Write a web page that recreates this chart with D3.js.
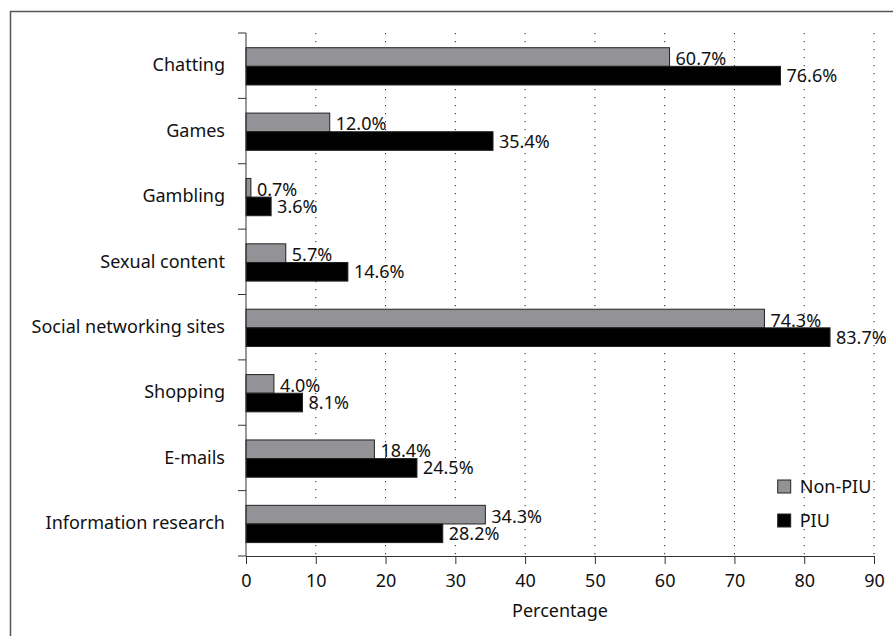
<!DOCTYPE html>
<html>
<head>
<meta charset="utf-8">
<script src="https://cdn.jsdelivr.net/npm/d3@7"></script>
<style>
  body { margin: 0; background: #fff; }
  text { font-family: "Noto Sans", "Open Sans", sans-serif; fill: #111; }
</style>
</head>
<body>
<svg id="drawing_region"></svg>
<script>
// values
const categories = ["Chatting", "Games", "Gambling", "Sexual content",
    "Social networking sites", "Shopping", "E-mails", "Information research"];
const nonPiu = [60.7, 12.0, 0.7, 5.7, 74.3, 4.0, 18.4, 34.3];
const piu    = [76.6, 35.4, 3.6, 14.6, 83.7, 8.1, 24.5, 28.2];
const seriesNames = ["Non-PIU", "PIU"];
const seriesColors = ["#939397", "#000000"];
const xTicks = [0, 10, 20, 30, 40, 50, 60, 70, 80, 90];

const config = {
    width: 893,
    height: 636,
    margin: {top: 33, right: 19, bottom: 80, left: 246}
};
const fontSize = '18px';

const svg = d3.select('#drawing_region')
    .attr('width', config.width)
    .attr('height', config.height);

// outer frame (open at right/bottom, runs off the picture)
svg.append('rect')
    .attr('x', 10.5).attr('y', 11.5)
    .attr('width', 1000).attr('height', 1000)
    .attr('fill', 'none')
    .attr('stroke', '#555')
    .attr('stroke-width', 1.5);

const inner_width = config.width - config.margin.left - config.margin.right;
const inner_height = config.height - config.margin.top - config.margin.bottom;

const chart = svg.append('g')
    .attr('transform', `translate(${config.margin.left}, ${config.margin.top})`);

const xscale = d3.scaleLinear()
    .domain([0, 90])
    .range([0, inner_width]);

const yscale = d3.scaleBand()
    .domain(categories)
    .range([0, inner_height])
    .padding(0);

const subscale = d3.scaleBand()
    .domain(seriesNames)
    .range([yscale.bandwidth() * 0.225, yscale.bandwidth() * 0.795]);

// dotted grid
chart.append('g')
    .selectAll('line')
    .data(xTicks.slice(1))
    .join('line')
    .attr('x1', d => xscale(d)).attr('x2', d => xscale(d))
    .attr('y1', 0).attr('y2', inner_height)
    .attr('stroke', '#222')
    .attr('stroke-width', 1)
    .attr('stroke-dasharray', '1.2,6.8');

const data = categories.map((c, i) => ({cat: c, values: [nonPiu[i], piu[i]]}));

const groups = chart.selectAll('.cat')
    .data(data)
    .join('g')
    .attr('class', 'cat')
    .attr('transform', d => `translate(0, ${yscale(d.cat)})`);

groups.selectAll('rect')
    .data(d => d.values.map((v, j) => ({name: seriesNames[j], v: v, j: j})))
    .join('rect')
    .attr('x', xscale(0))
    .attr('y', d => subscale(d.name))
    .attr('width', d => xscale(d.v) - xscale(0))
    .attr('height', subscale.bandwidth())
    .attr('fill', d => seriesColors[d.j])
    .attr('stroke', '#222')
    .attr('stroke-width', 1);

// value labels: the grey one sits on the boundary between the two bars
groups.selectAll('text.val')
    .data(d => d.values.map((v, j) => ({name: seriesNames[j], v: v, j: j})))
    .join('text')
    .attr('class', 'val')
    .attr('x', d => xscale(d.v) + 6)
    .attr('y', d => subscale(d.name) + subscale.bandwidth() / 2 + (d.j === 0 ? 1.5 : 0))
    .attr('dy', '0.36em')
    .attr('font-size', fontSize)
    .text(d => d.v.toFixed(1) + '%');

// axes
const xaxis = d3.axisBottom(xscale)
    .tickValues(xTicks)
    .tickSize(8)
    .tickSizeOuter(0)
    .tickPadding(10);

const xaxis_group = chart.append('g')
    .attr('transform', `translate(0, ${inner_height})`)
    .call(xaxis);
xaxis_group.selectAll('text').attr('font-size', fontSize);

const yaxis = d3.axisLeft(yscale).tickSize(0).tickPadding(21);
const yaxis_group = chart.append('g').call(yaxis);
yaxis_group.select('.domain').remove();
yaxis_group.selectAll('text').attr('font-size', fontSize);

// category boundary ticks on the y axis
chart.append('g')
    .selectAll('line')
    .data(d3.range(categories.length + 1))
    .join('line')
    .attr('x1', -8).attr('x2', 0)
    .attr('y1', i => i * yscale.step()).attr('y2', i => i * yscale.step())
    .attr('stroke', '#333');
chart.append('line')
    .attr('x1', 0).attr('x2', 0)
    .attr('y1', 0).attr('y2', inner_height)
    .attr('stroke', '#333');

chart.selectAll('.domain, .tick line').attr('stroke', '#333');

chart.append('text')
    .attr('x', inner_width / 2)
    .attr('y', inner_height + 61)
    .attr('text-anchor', 'middle')
    .attr('font-size', fontSize)
    .text('Percentage');

// legend
const legend = chart.append('g')
    .attr('transform', `translate(${xscale(76.2)}, ${inner_height - 76})`);
const li = legend.selectAll('g')
    .data(seriesNames)
    .join('g')
    .attr('transform', (d, i) => `translate(0, ${i * 34})`);
li.append('rect')
    .attr('width', 13).attr('height', 13)
    .attr('fill', (d, i) => seriesColors[i])
    .attr('stroke', '#222');
li.append('text')
    .attr('x', 22).attr('y', 6.5)
    .attr('dy', '0.36em')
    .attr('font-size', fontSize)
    .text(d => d);
</script>
</body>
</html>
